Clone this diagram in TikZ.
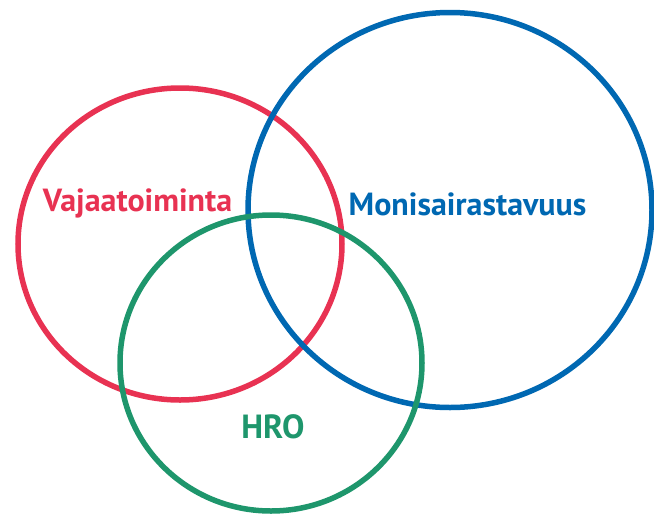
\documentclass[tikz,border=0pt]{standalone}
\usepackage{fontspec}
\setmainfont{PT Sans}
\definecolor{cred}{RGB}{232,50,82}
\definecolor{cblue}{RGB}{0,104,178}
\definecolor{cgreen}{RGB}{30,150,108}
\begin{document}
\begin{tikzpicture}[x=1pt,y=-1pt,
  ring/.style={line width=5.5pt},
  lbl/.style={font=\fontsize{32}{34}\selectfont\bfseries, inner sep=0pt, anchor=base}]
\useasboundingbox (0,0) rectangle (654,515);
\draw[ring, cred] (180,244) ellipse [x radius=162, y radius=156];
\draw[ring, cblue] (450,210) ellipse [x radius=202, y radius=197.5];
\draw[ring, cgreen] (271,363) ellipse [x radius=151, y radius=148];
\node[lbl, text=cred] (vaja) at (137.5,211) {Vajaatoiminta};
\node[lbl, text=cblue] (moni) at (467.5,215) {Monisairastavuus};
\node[lbl, text=cgreen, font=\fontsize{33.5}{35}\selectfont\bfseries] (hro) at (273,438) {HRO};
\end{tikzpicture}
\end{document}
